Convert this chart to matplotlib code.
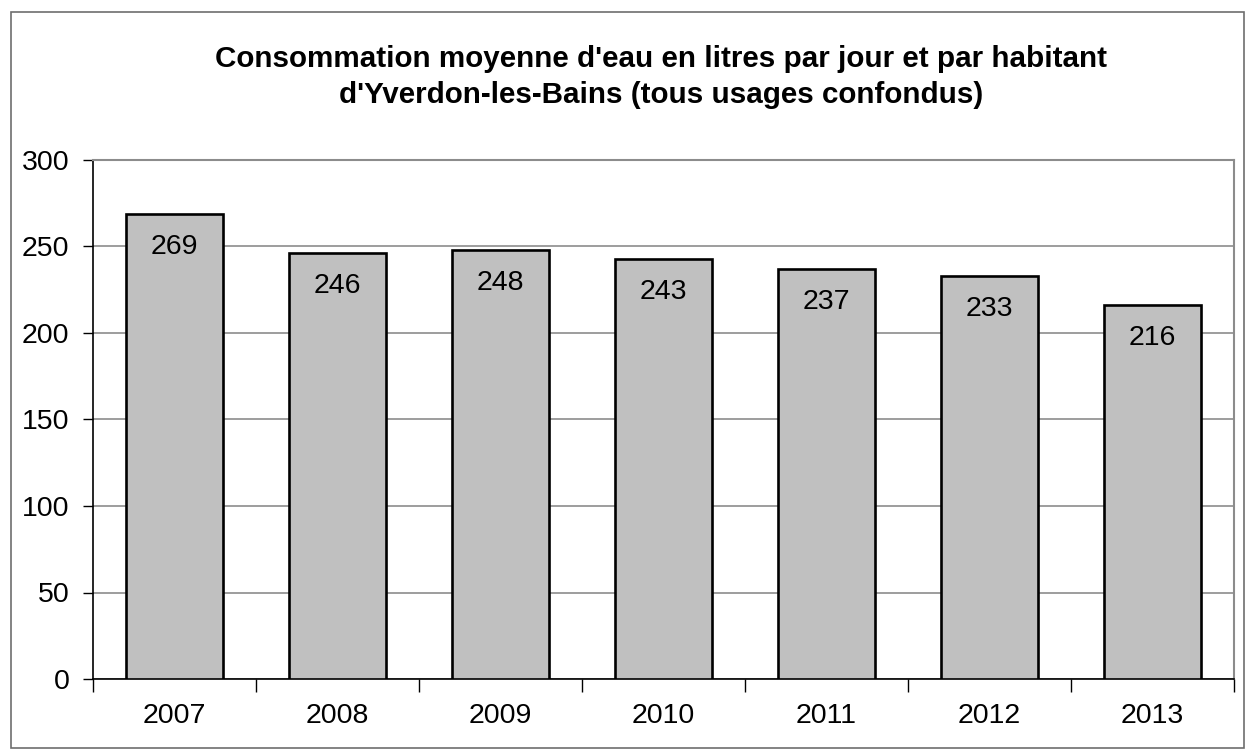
import matplotlib
matplotlib.use("Agg")
import matplotlib.pyplot as plt
from matplotlib.patches import Rectangle

years = ["2007", "2008", "2009", "2010", "2011", "2012", "2013"]
values = [269, 246, 248, 243, 237, 233, 216]
yticks = [0, 50, 100, 150, 200, 250, 300]
title = "Consommation moyenne d'eau en litres par jour et par habitant\nd'Yverdon-les-Bains (tous usages confondus)"

plt.rcParams['font.family'] = ['Liberation Sans', 'DejaVu Sans']
nsize = 20.5

W, H = 1251, 755
fig = plt.figure(figsize=(W / 100, H / 100), dpi=100)
fig.patch.set_facecolor('white')

# figure border
fig.add_artist(Rectangle((11 / W, 1 - 748 / H), (1244 - 11) / W, (748 - 12) / H,
                         transform=fig.transFigure, fill=False,
                         edgecolor='#6e6e6e', linewidth=1.2))

ax = fig.add_axes([93 / W, 1 - 679 / H, (1234 - 93) / W, (679 - 160) / H])
x = list(range(len(years)))
bars = ax.bar(x, values, width=0.59, color='#c0c0c0', edgecolor='black',
              linewidth=1.9, zorder=3)

ax.set_xlim(-0.5, len(years) - 0.5)
ax.set_ylim(0, 300)
ax.set_yticks(yticks)
ax.set_yticklabels([str(t) for t in yticks], fontsize=nsize)
ax.set_xticks(x)
ax.set_xticklabels(years, fontsize=nsize)
ax.tick_params(axis='x', length=0, pad=17)
ax.tick_params(axis='y', length=7, width=1, direction='out', pad=10)

# x minor ticks between categories
ax.set_xticks([i - 0.5 for i in range(len(years) + 1)], minor=True)
ax.tick_params(axis='x', which='minor', length=9, width=1, direction='out')

ax.yaxis.grid(True, color='#8c8c8c', linewidth=1.2, zorder=0)
ax.set_axisbelow(True)

for side in ['top', 'right']:
    ax.spines[side].set_color('#8c8c8c')
    ax.spines[side].set_linewidth(1.5)
ax.spines['left'].set_color('black')
ax.spines['bottom'].set_color('black')
ax.spines['left'].set_linewidth(1.2)
ax.spines['bottom'].set_linewidth(1.2)

for xi, v in zip(x, values):
    ax.annotate(str(v), (xi, v), xytext=(0, -33), textcoords='offset pixels',
                ha='center', va='center', fontsize=nsize, zorder=4)

fig.text(661 / W, 1 - 77 / H, title, ha='center', va='center',
         fontsize=21.3, fontweight='bold', linespacing=1.36)

fig.savefig('out.png', dpi=100)
